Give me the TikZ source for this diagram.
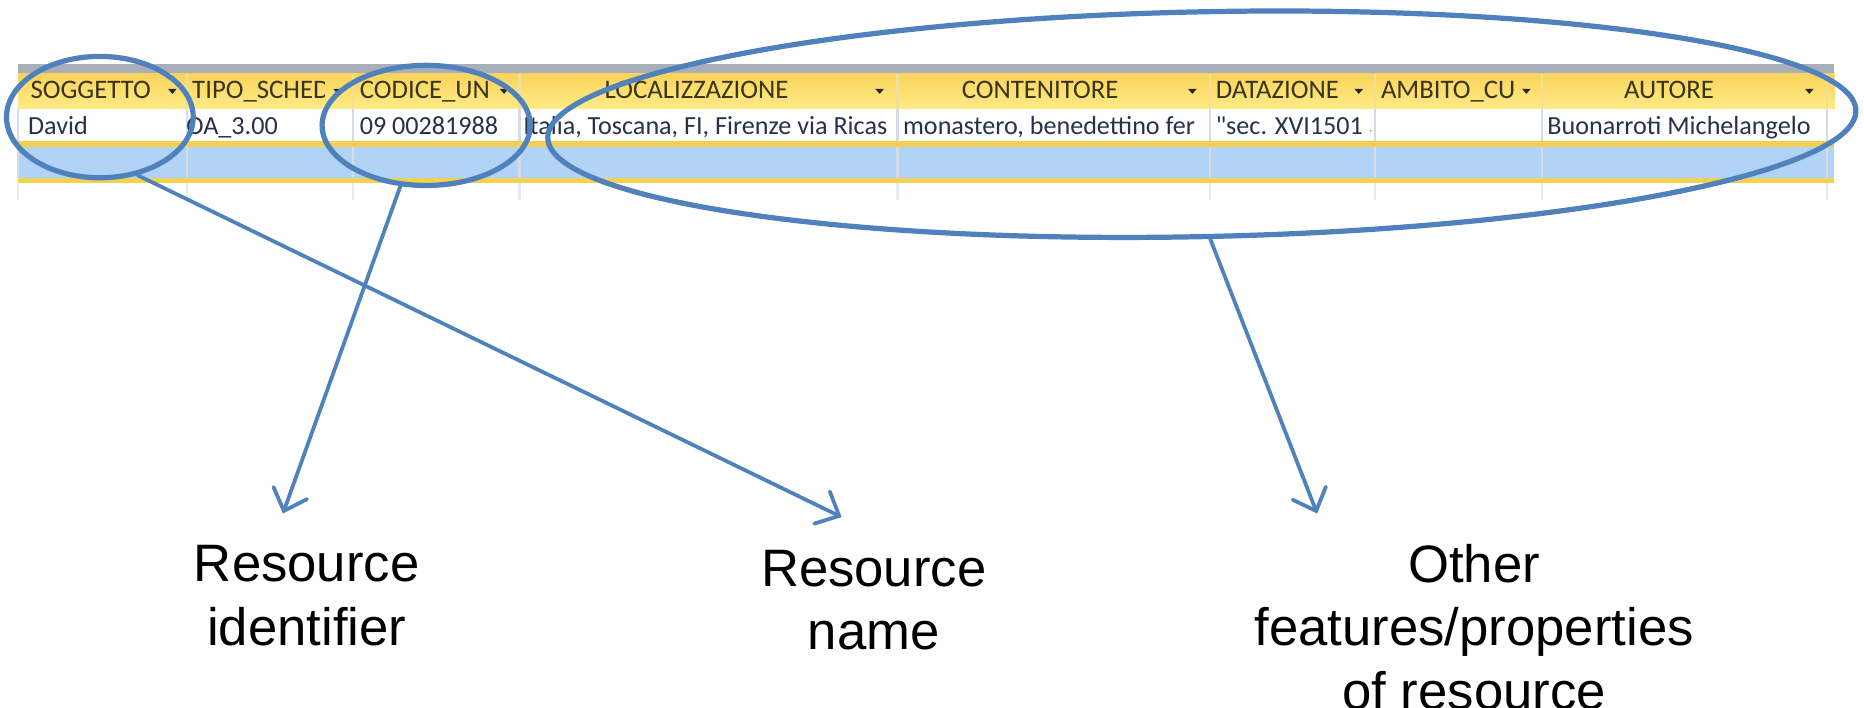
\documentclass[tikz,border=0pt]{standalone}
\usepackage{fontspec}
\setmainfont{Liberation Sans}
\newfontfamily\gridfont{Carlito}
\usetikzlibrary{arrows.meta,shapes.geometric}

\definecolor{markblue}{HTML}{4F81BD}
\definecolor{barfill}{HTML}{A8AFB9}
\definecolor{hdrtop}{HTML}{F9D35C}
\definecolor{hdrbot}{HTML}{FFEC86}
\definecolor{rowline}{HTML}{F2D150}
\definecolor{selblue}{HTML}{B1D4F6}
\definecolor{cellsep}{HTML}{D5DCE7}
\definecolor{hdrsep}{HTML}{F3DE9A}
\definecolor{hdrtext}{HTML}{3A3418}
\definecolor{celltext}{HTML}{263249}
\definecolor{flagdot}{HTML}{E8884A}

\tikzset{
  hdr/.style={font=\gridfont\fontsize{6.4pt}{7.5pt}\selectfont, text=hdrtext, inner sep=0pt},
  cell/.style={font=\gridfont\fontsize{6.25pt}{7.5pt}\selectfont, text=celltext, inner sep=0pt, anchor=base west},
  ring/.style={draw=markblue, line width=1.25pt, ellipse, inner sep=0pt},
  conn/.style={draw=markblue, line width=0.9pt, line cap=round,
    -{Straight Barb[length=1.6mm,width=3.0mm,line cap=round]}},
  caption/.style={font=\fontsize{12.6pt}{15.2pt}\selectfont, align=center, inner sep=0pt, anchor=north},
}

\begin{document}
\begin{tikzpicture}[x=0.01cm,y=-0.01cm]
\useasboundingbox (0,0) rectangle (1568,595);

% grid bands
\fill[barfill] (15,54) rectangle (1543,62);
\shade[top color=hdrtop,bottom color=hdrbot] (15,62) rectangle (1543,92);
\fill[white] (15,92) rectangle (1543,119);
\fill[rowline] (15,119) rectangle (1543,124);
\fill[selblue] (15,124) rectangle (1543,150);
\fill[rowline] (15,150) rectangle (1543,154);

% column separators
\foreach \c in {157,297,437,755,1018,1157,1297,1537} {
  \draw[hdrsep, line width=0.5pt] (\c,62) -- (\c,92);
}
\foreach \c in {15,157,297,437,755,1018,1157,1297,1537} {
  \draw[cellsep, line width=0.5pt] (\c,92) -- (\c,119);
  \draw[cellsep, line width=0.5pt] (\c,124) -- (\c,150);
  \draw[cellsep!60, line width=0.5pt] (\c,154) -- (\c,168);
}

% dropdown buttons
\foreach \a in {145,284,424,740,1003,1143,1284,1522} {
  \fill[black!85] (\a-3.6,74.8) -- (\a+3.6,74.8) -- (\a,79) -- cycle;
}

% header captions
\node[hdr, anchor=base west] (hSog) at (25,83) {SOGGETTO};
\begin{scope}
  \clip (158,62) rectangle (273,92);
  \node[hdr, anchor=base west] (hTipo) at (161,83) {TIPO\_SCHED};
\end{scope}
\node[hdr, anchor=base west] (hCod) at (302,83) {CODICE\_UN};
\node[hdr, anchor=base] (hLoc) at (586,83) {LOCALIZZAZIONE};
\node[hdr, anchor=base] (hCont) at (875,83) {CONTENITORE};
\node[hdr, anchor=base west] (hDat) at (1022,83) {DATAZIONE};
\node[hdr, anchor=base west] (hAmb) at (1161,83) {AMBITO\_CU};
\node[hdr, anchor=base] (hAut) at (1404,83) {AUTORE};

% data row
\node[cell] (dSog) at (23,113) {David};
\begin{scope}
  \clip (158,92) rectangle (296,119);
  \node[cell] (dTipo) at (156,113) {OA\_3.00};
\end{scope}
\node[cell] (dCod) at (302,113) {09 00281988};
\begin{scope}
  \clip (438,92) rectangle (754,119);
  \node[cell] (dLoc) at (439.5,113) {Italia, Toscana, FI, Firenze via Ricas};
\end{scope}
\begin{scope}
  \clip (756,92) rectangle (1016,119);
  \node[cell] (dCont) at (759,113) {monastero, benedettino fer};
\end{scope}
\node[cell] (dDat) at (1022,113) {"sec. XVI1501};
\fill[flagdot] (1153,110) circle (0.9);
\node[cell] (dAut) at (1301,113) {Buonarroti Michelangelo};

% highlight rings
\node[ring, minimum width=1.57cm, minimum height=1.02cm] (rName) at (84,98.5) {};
\node[ring, minimum width=1.75cm, minimum height=1.01cm] (rId) at (358.5,105.5) {};
\node[ring, minimum width=11.0cm, minimum height=1.89cm, rotate=1.2] (rProps) at (1011,104.5) {};

% caption texts
\node[caption] (cId) at (258,458) {Resource\\identifier};
\node[caption] (cName) at (735,462) {Resource\\name};
\node[caption] (cProps) at (1240,457) {Other\\features/properties\\of resource};

% pointer ends
\coordinate (tId) at (238,432);
\coordinate (tName) at (708,435);
\coordinate (tProps) at (1108,432);

% pointers
\draw[conn] (rName.-57) -- (tName);
\draw[conn] (rId.-113) -- (tId);
\draw[conn] (rProps.-87) -- (tProps);
\end{tikzpicture}
\end{document}
